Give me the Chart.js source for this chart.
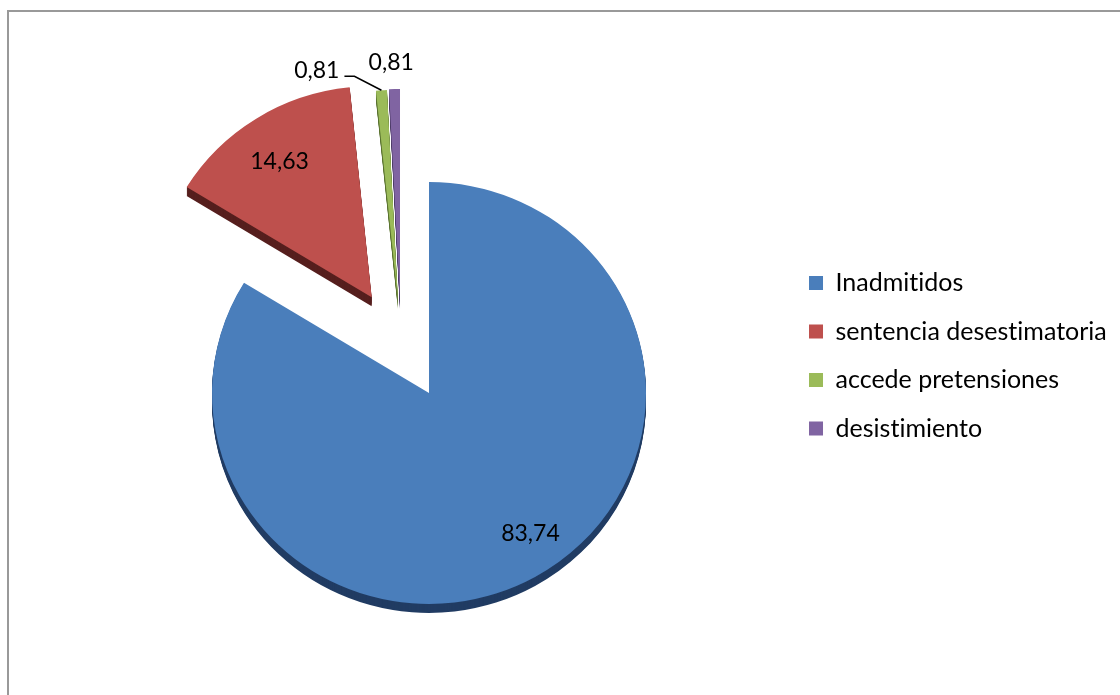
<!DOCTYPE html>
<html lang="es">
<head>
<meta charset="UTF-8">
<title>Resoluciones</title>
<script src="https://cdn.jsdelivr.net/npm/chart.js"></script>
<style>
  * { margin: 0; padding: 0; box-sizing: border-box; }
  html, body { width: 1120px; height: 695px; overflow: hidden; background: #fff; }
  .frame { position: absolute; left: 7px; top: 10px; width: 1200px; height: 800px; border-left: 2px solid #999; border-top: 2px solid #999; }
  #chart { position: absolute; left: 0; top: 0; }
</style>
</head>
<body>
<div class="frame"></div>
<canvas id="chart" width="1120" height="695"></canvas>
<script>
const categories = ['Inadmitidos', 'sentencia desestimatoria', 'accede pretensiones', 'desistimiento'];
const values = [83.74, 14.63, 0.81, 0.81];
const faceColors = ['#4A7EBB', '#BE504D', '#9BBB59', '#8064A2'];
const sideColors = ['#213C63', '#561F1E', '#5A7230', '#463660'];

// pull-out distance of each slice and a small swing of its direction (degrees)
const explode = [0, 114, 100, 100];
const explodeSwing = [0, 2, -13.7, -15.4];
// value labels: distance as a share of the radius, angle swing, and which one hangs on a leader line
const labelFrac = [0.816, 0.77, 1, 1.127];
const labelSwing = [-5.7, -1.3, 0, -0.6];
const leaderIndex = 2;

const TILT = 0.972;  // vertical squash for the tilted look
const DEPTH = 9;     // wall thickness of the slices
const rad = d => d * Math.PI / 180;
const fmt = v => v.toFixed(2).replace('.', ',');

Chart.defaults.font.family = 'Lato';

function sliceShift(arc, i) {
  const a = (arc.startAngle + arc.endAngle) / 2 + rad(explodeSwing[i]);
  return { x: Math.cos(a) * explode[i], y: Math.sin(a) * explode[i] * TILT };
}

function drawSlice(ctx, arc, i, dy, color) {
  const s = sliceShift(arc, i);
  ctx.save();
  ctx.translate(s.x, s.y + dy);
  ctx.translate(arc.x, arc.y);
  ctx.scale(1, TILT);
  ctx.translate(-arc.x, -arc.y);
  const opts = arc.options;
  if (color) arc.options = Object.assign({}, opts, { backgroundColor: color });
  arc.draw(ctx);
  arc.options = opts;
  ctx.restore();
}

const explodedPie = {
  id: 'explodedPie',
  beforeDraw(chart) {
    // no "ti" ligatures in Lato
    chart.ctx.textRendering = 'optimizeSpeed';
    chart.ctx.letterSpacing = '0.01px';
  },
  beforeDatasetDraw(chart, args) {
    const ctx = chart.ctx;
    const arcs = args.meta.data;
    // walls first, then the faces on top
    arcs.forEach((arc, i) => {
      for (let d = DEPTH; d > 0; d--) drawSlice(ctx, arc, i, d, sideColors[i]);
    });
    arcs.forEach((arc, i) => drawSlice(ctx, arc, i, 0, null));
    return false;
  },
  afterDatasetsDraw(chart) {
    const ctx = chart.ctx;
    ctx.save();
    ctx.font = '23px Lato';
    ctx.fillStyle = '#000';
    ctx.strokeStyle = '#000';
    ctx.lineWidth = 1.5;
    ctx.textBaseline = 'middle';
    chart.getDatasetMeta(0).data.forEach((arc, i) => {
      const s = sliceShift(arc, i);
      const tx = arc.x + s.x;
      const ty = arc.y + s.y;
      const mid = (arc.startAngle + arc.endAngle) / 2;
      const R = arc.outerRadius;
      const text = fmt(values[i]);
      if (i === leaderIndex) {
        const ax = tx + Math.cos(mid) * R;
        const ay = ty + Math.sin(mid) * R * TILT;
        const ex = ax - 27, ey = ay - 14;
        ctx.beginPath();
        ctx.moveTo(ax, ay);
        ctx.lineTo(ex, ey);
        ctx.lineTo(ex - 10, ey);
        ctx.stroke();
        ctx.textAlign = 'right';
        ctx.fillText(text, ex - 15, ey - 6);
      } else {
        const a = mid + rad(labelSwing[i]);
        const r = R * labelFrac[i];
        ctx.textAlign = 'center';
        ctx.fillText(text, tx + Math.cos(a) * r, ty + Math.sin(a) * r * TILT);
      }
    });
    ctx.restore();
  }
};

new Chart(document.getElementById('chart'), {
  type: 'pie',
  data: {
    labels: categories,
    datasets: [{
      data: values,
      backgroundColor: faceColors,
      borderWidth: 0,
      radius: 217,
      clip: false
    }]
  },
  options: {
    responsive: false,
    animation: false,
    events: [],
    layout: { padding: { top: 247, bottom: 156, left: 72.5, right: 3 } },
    plugins: {
      legend: {
        position: 'right',
        align: 'start',
        labels: {
          boxWidth: 14,
          boxHeight: 14,
          padding: 23.5,
          color: '#000',
          font: { family: 'Lato', size: 25 }
        }
      },
      tooltip: { enabled: false }
    }
  },
  plugins: [explodedPie]
});
</script>
</body>
</html>
